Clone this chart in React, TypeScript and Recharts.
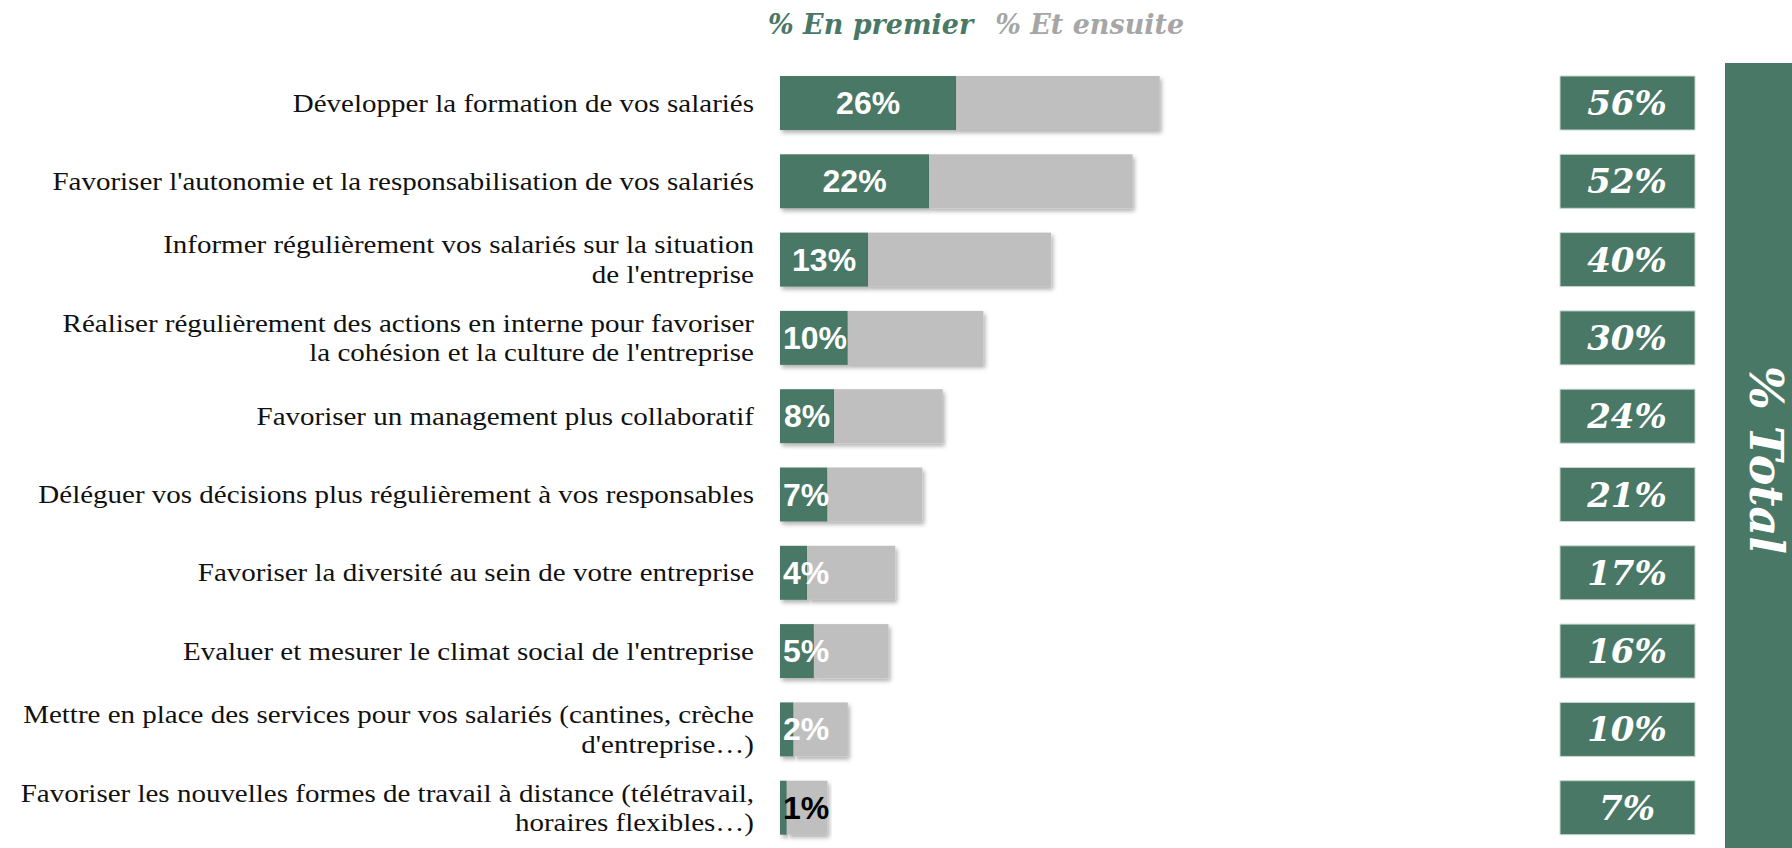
import React from "react";
import { BarChart, Bar, XAxis, YAxis, LabelList } from "recharts";

const categories = [
  "Développer la formation de vos salariés",
  "Favoriser l'autonomie et la responsabilisation de vos salariés",
  "Informer régulièrement vos salariés sur la situation\nde l'entreprise",
  "Réaliser régulièrement des actions en interne pour favoriser\nla cohésion et la culture de l'entreprise",
  "Favoriser un management plus collaboratif",
  "Déléguer vos décisions plus régulièrement à vos responsables",
  "Favoriser la diversité au sein de votre entreprise",
  "Evaluer et mesurer le climat social de l'entreprise",
  "Mettre en place des services pour vos salariés (cantines, crèche\nd'entreprise…)",
  "Favoriser les nouvelles formes de travail à distance (télétravail,\nhoraires flexibles…)",
];
const enPremier = [26, 22, 13, 10, 8, 7, 4, 5, 2, 1];
const etEnsuite = [30, 30, 27, 20, 16, 14, 13, 11, 8, 6];
const totals = [56, 52, 40, 30, 24, 21, 17, 16, 10, 7];

const GREEN = "#4a7866";
const GREY = "#bfbfbf";

const data = categories.map((name, i) => ({
  name,
  premier: enPremier[i],
  ensuite: etEnsuite[i],
  total: totals[i],
}));

// Times glyphs stretched a bit to get the width of the original Georgia labels
const CategoryTick = (props: any) => {
  const { x, y, payload } = props;
  const lines = String(payload.value).split("\n");
  return (
    <g transform={`translate(${x},0) scale(1.16,1) translate(${-x},0)`}>
      <text x={x} y={y} textAnchor="end" fontFamily="'Liberation Serif', serif" fontSize={25} fill="#111">
        {lines.map((l, i) => (
          <tspan key={i} x={x} y={y + (i - (lines.length - 1) / 2) * 29.5 + 8.5}>
            {l}
          </tspan>
        ))}
      </text>
    </g>
  );
};

const ShadowBar = (props: any) => {
  const { x, y, width, height, fill } = props;
  if (!width || width <= 0) return null;
  return <rect x={x} y={y} width={width} height={height} fill={fill} filter="url(#barShadow)" />;
};

const PremierLabel = (props: any) => {
  const { x, y, width, height, value } = props;
  const txt = `${value}%`;
  const fs = 32;
  const w = fs * (0.556 * String(value).length + 0.889);
  const cx = Math.max(x + width / 2, x + w / 2 + 3);
  return (
    <text
      x={cx}
      y={y + height / 2 + 11}
      textAnchor="middle"
      fontFamily="'Liberation Sans', Arial, sans-serif"
      fontWeight="bold"
      fontSize={fs}
      fill={value <= 1 ? "#000" : "#fff"}
    >
      {txt}
    </text>
  );
};

const TotalBox = (props: any) => {
  const { y, height, index } = props;
  return (
    <g>
      <rect x={1560} y={y} width={135} height={height} fill={GREEN} stroke="#c9d6d0" strokeWidth={1} />
      <text
        x={1627}
        y={y + height / 2 + 12}
        textAnchor="middle"
        fontFamily="'DejaVu Serif', serif"
        fontStyle="italic"
        fontWeight="bold"
        fontSize={34}
        fill="#fff"
      >
        {`${totals[index]}%`}
      </text>
    </g>
  );
};

export default function App() {
  return (
    <div style={{ position: "absolute", left: 0, top: 0, width: 1792, height: 848, background: "#fff", overflow: "hidden" }}>
      <div
        style={{
          position: "absolute",
          left: 768,
          top: 9,
          fontFamily: "'DejaVu Serif', serif",
          fontStyle: "italic",
          fontWeight: "bold",
          fontSize: 27,
          lineHeight: "32px",
          whiteSpace: "nowrap",
        }}
      >
        <span style={{ color: GREEN }}>% En premier</span>
        <span style={{ color: "#a6a6a6", marginLeft: 22 }}>% Et ensuite</span>
      </div>
      <BarChart
        width={1792}
        height={848}
        data={data}
        layout="vertical"
        margin={{ top: 64, right: 334, bottom: 1, left: 0 }}
      >
        <defs>
          <filter id="barShadow" x="-5%" y="-10%" width="115%" height="140%">
            <feDropShadow dx={2} dy={3} stdDeviation={2} floodColor="#000" floodOpacity={0.3} />
          </filter>
        </defs>
        <XAxis type="number" domain={[0, 100]} hide />
        <YAxis
          type="category"
          dataKey="name"
          width={780}
          axisLine={false}
          tickLine={false}
          tickSize={0}
          tickMargin={26}
          interval={0}
          tick={<CategoryTick />}
        />
        <Bar dataKey="premier" stackId="a" fill={GREEN} barSize={54} shape={<ShadowBar />} isAnimationActive={false}>
          <LabelList dataKey="premier" content={<PremierLabel />} />
        </Bar>
        <Bar dataKey="ensuite" stackId="a" fill={GREY} barSize={54} shape={<ShadowBar />} isAnimationActive={false}>
          <LabelList dataKey="ensuite" content={<TotalBox />} />
        </Bar>
      </BarChart>
      <div
        style={{
          position: "absolute",
          left: 1725,
          top: 63,
          width: 67,
          height: 785,
          background: GREEN,
          display: "flex",
          alignItems: "center",
          justifyContent: "center",
        }}
      >
        <span
          style={{
            writingMode: "vertical-rl",
            color: "#fff",
            fontFamily: "'DejaVu Serif', serif",
            fontStyle: "italic",
            fontWeight: "bold",
            fontSize: 46,
            paddingLeft: 14,
            marginTop: 8,
          }}
        >
          % Total
        </span>
      </div>
    </div>
  );
}
